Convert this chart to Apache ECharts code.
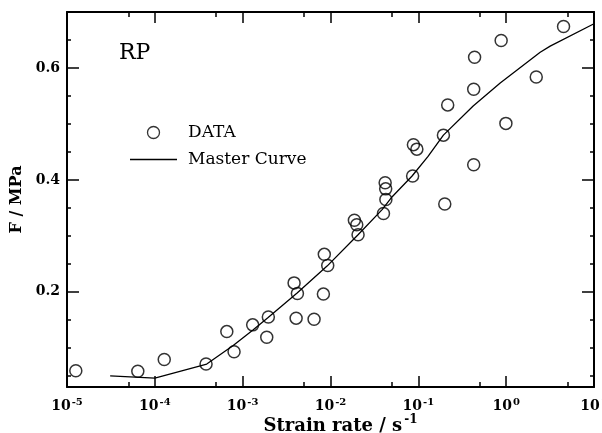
<!DOCTYPE html>
<html>
<head>
<meta charset="utf-8">
<script src="https://cdn.jsdelivr.net/npm/echarts@6/dist/echarts.min.js"></script>
<style>
html,body{margin:0;padding:0;background:#fff;}
#container{width:602px;height:433px;}
</style>
</head>
<body>
<div id="container"></div>
<script>
// measured points (strain rate / s^-1, F / MPa)
var strainRate = [1.26e-5, 6.4e-5, 1.28e-4, 3.83e-4, 6.6e-4, 7.98e-4, 1.30e-3, 1.88e-3, 1.96e-3,
	3.85e-3, 4.2e-3, 4.06e-3, 6.5e-3, 8.3e-3, 8.5e-3, 9.3e-3, 0.0187, 0.0199, 0.0206,
	0.0401, 0.0427, 0.0425, 0.0419, 0.0861, 0.0879, 0.0962, 0.193, 0.2, 0.216,
	0.427, 0.437, 0.427, 0.877, 0.993, 2.20, 4.50];
var force = [0.059, 0.058, 0.079, 0.071, 0.129, 0.093, 0.141, 0.119, 0.155,
	0.216, 0.197, 0.153, 0.151, 0.196, 0.267, 0.247, 0.328, 0.320, 0.302,
	0.340, 0.365, 0.384, 0.395, 0.407, 0.463, 0.455, 0.480, 0.357, 0.534,
	0.562, 0.619, 0.427, 0.649, 0.501, 0.584, 0.674];

// master curve
var curveRate = [3.1e-5, 1e-4, 3.9e-4, 7.8e-4, 1.31e-3, 1.95e-3, 4.17e-3, 9.14e-3, 0.0206,
	0.0387, 0.0504, 0.0849, 0.129, 0.193, 0.421, 0.855, 2.44, 3.17, 10];
var curveForce = [0.050, 0.046, 0.071, 0.104, 0.132, 0.154, 0.198, 0.246, 0.302,
	0.347, 0.370, 0.407, 0.442, 0.480, 0.532, 0.573, 0.628, 0.639, 0.679];

// ticks
var decadeTicks = [1e-5, 1e-4, 1e-3, 1e-2, 1e-1, 1, 10];
var halfDecadeTicks = [5e-5, 5e-4, 5e-3, 5e-2, 0.5, 5];
var forceTicks = [0.2, 0.4, 0.6];
var forceMinorTicks = [0.05, 0.1, 0.15, 0.25, 0.3, 0.35, 0.45, 0.5, 0.55, 0.65];

var serif = 'DejaVu Serif';

function powLabel(v){
	var e = Math.round(Math.log(v) / Math.LN10);
	return '{b|10}{s|' + e + '}';
}

function xAxisDef(pos, ticks, len, main){
	return {
		type: 'log', logBase: 10, min: 1e-5, max: 10, position: pos,
		axisLine: {show: main, onZero: false, lineStyle: {color: '#000', width: 2}},
		axisTick: {show: true, inside: true, length: len, customValues: ticks, lineStyle: {color: '#000', width: 1.5}},
		axisLabel: (main && pos == 'bottom') ? {
			show: true, customValues: decadeTicks, margin: 10, formatter: powLabel,
			rich: {
				b: {fontFamily: serif, fontSize: 14, color: '#000', fontWeight: 'bold'},
				s: {fontFamily: serif, fontSize: 10, color: '#000', fontWeight: 'bold', padding: [0, 0, 9, 1]}
			}
		} : {show: false},
		splitLine: {show: false}
	};
}

function yAxisDef(pos, ticks, len, main){
	return {
		type: 'value', min: 0.03, max: 0.7, position: pos,
		axisLine: {show: main, onZero: false, lineStyle: {color: '#000', width: 2}},
		axisTick: {show: true, inside: true, length: len, customValues: ticks, lineStyle: {color: '#000', width: 1.5}},
		axisLabel: (main && pos == 'left') ? {
			show: true, customValues: forceTicks, margin: 7,
			fontFamily: serif, fontSize: 14, fontWeight: 'bold', color: '#000',
			formatter: function(v){ return v.toFixed(1); }
		} : {show: false},
		splitLine: {show: false}
	};
}

var xAxes = [
	xAxisDef('bottom', decadeTicks, 11, true),
	xAxisDef('bottom', halfDecadeTicks, 5, false),
	xAxisDef('top', decadeTicks, 11, true),
	xAxisDef('top', halfDecadeTicks, 5, false)
];
xAxes[0].name = '{a|Strain rate / s}{s|-1}';
xAxes[0].nameLocation = 'middle';
xAxes[0].nameGap = 27;
xAxes[0].nameMoveOverlap = false;
xAxes[0].nameTextStyle = {
	padding: [0, 0, 0, 20],
	rich: {
		a: {fontFamily: serif, fontSize: 18, fontWeight: 'bold', color: '#000'},
		s: {fontFamily: serif, fontSize: 12, fontWeight: 'bold', color: '#000', padding: [0, 0, 12, 2]}
	}
};

var yAxes = [
	yAxisDef('left', forceTicks, 12, true),
	yAxisDef('left', forceMinorTicks, 4, false),
	yAxisDef('right', forceTicks, 12, true),
	yAxisDef('right', forceMinorTicks, 4, false)
];
yAxes[0].name = 'F / MPa';
yAxes[0].nameLocation = 'middle';
yAxes[0].nameGap = 42;
yAxes[0].nameMoveOverlap = false;
yAxes[0].nameTextStyle = {fontFamily: serif, fontSize: 16, fontWeight: 'bold', color: '#000'};

var pts = [];
for (var i = 0; i < strainRate.length; i++) pts.push([strainRate[i], force[i]]);
var curve = [];
for (var j = 0; j < curveRate.length; j++) curve.push([curveRate[j], curveForce[j]]);

var myChart = echarts.init(document.getElementById('container'), null, {renderer: 'canvas'});
var option = {
	backgroundColor: '#fff',
	animation: false,
	grid: {left: 67, right: 8, top: 12, bottom: 46, outerBoundsMode: 'none'},
	xAxis: xAxes,
	yAxis: yAxes,
	legend: {
		orient: 'vertical', left: 125, top: 119,
		itemWidth: 47, itemHeight: 12, itemGap: 10,
		data: [
			{name: 'DATA', icon: 'circle',
				itemStyle: {color: 'rgba(255,255,255,0)', borderColor: '#000', borderWidth: 1.3},
				textStyle: {fontFamily: serif, fontSize: 17, color: '#000', padding: [0, 0, 0, 6]}},
			{name: 'Master Curve', icon: 'path://M0,0h47v1.3h-47z',
				itemStyle: {color: '#000', borderWidth: 0},
				textStyle: {fontFamily: serif, fontSize: 17, color: '#000', padding: [0, 0, 0, 6]}}
		]
	},
	graphic: [{
		type: 'text', left: 119, top: 42,
		style: {text: 'RP', font: '22px "DejaVu Serif"', fill: '#000'}
	}],
	series: [{
		name: 'DATA', type: 'scatter', data: pts,
		symbol: 'circle', symbolSize: 12,
		itemStyle: {color: 'rgba(255,255,255,0)', borderColor: '#000', borderWidth: 1.5}
	}, {
		name: 'Master Curve', type: 'line', data: curve,
		showSymbol: false, symbol: 'none',
		itemStyle: {color: '#000'},
		lineStyle: {color: '#000', width: 1.3}
	}]
};
myChart.setOption(option);
</script>
</body>
</html>
